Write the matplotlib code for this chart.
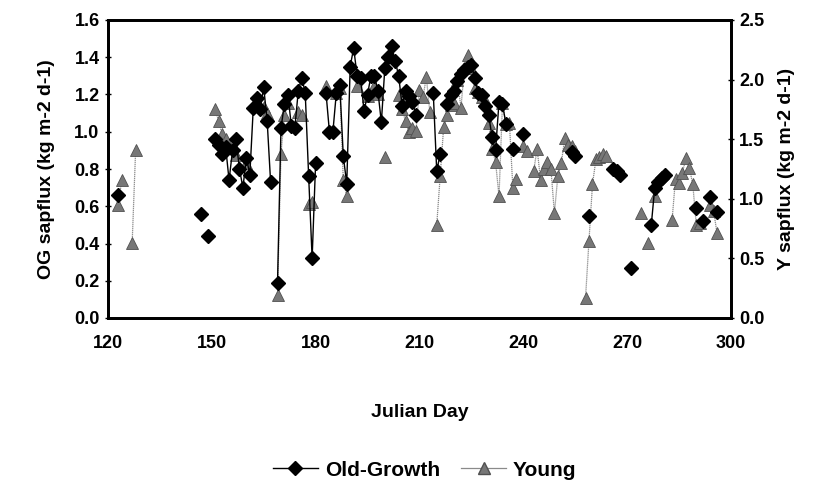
import numpy as np
import matplotlib
matplotlib.use('Agg')
import matplotlib.pyplot as plt
from matplotlib.lines import Line2D

plt.rcParams.update({
    'font.family': 'Liberation Sans',
    'font.weight': 'bold',
    'font.size': 12,
})

# --- Data ---
og_day = [123, 147, 149,
          151, 152, 153, 154, 155, 156, 157, 158, 159, 160, 161, 162, 163, 164,
          165, 166, 167, 169, 170, 171, 172, 173, 174, 175, 176, 177, 178, 179,
          180, 183, 184, 185, 186, 187, 188, 189, 190, 191, 192, 193, 194, 195,
          196, 197, 198, 199, 200, 201, 202, 203, 204, 205, 206, 207, 208, 209,
          214, 215, 216, 218, 219, 220, 221, 222, 223, 224, 225, 226, 227, 228,
          229, 230, 231, 232, 233, 234, 235, 237, 240,
          254, 255, 259, 266, 267, 268, 271,
          277, 278, 279, 280, 281, 290, 292, 294, 296]
og_val = [0.66, 0.56, 0.44,
          0.96, 0.93, 0.88, 0.92, 0.74, 0.90, 0.96, 0.80, 0.70, 0.86, 0.77, 1.13, 1.18, 1.12,
          1.24, 1.06, 0.73, 0.19, 1.02, 1.15, 1.20, 1.03, 1.02, 1.22, 1.29, 1.21, 0.76, 0.32,
          0.83, 1.21, 1.00, 1.00, 1.21, 1.25, 0.87, 0.72, 1.35, 1.45, 1.30, 1.29, 1.11, 1.20,
          1.30, 1.30, 1.22, 1.05, 1.34, 1.40, 1.46, 1.38, 1.30, 1.14, 1.22, 1.19, 1.16, 1.09,
          1.21, 0.79, 0.88, 1.15, 1.20, 1.22, 1.27, 1.31, 1.33, 1.35, 1.36, 1.29, 1.21, 1.20,
          1.14, 1.09, 0.97, 0.90, 1.16, 1.15, 1.04, 0.91, 0.99,
          0.89, 0.87, 0.55, 0.80, 0.79, 0.77, 0.27,
          0.50, 0.70, 0.73, 0.75, 0.77, 0.59, 0.52, 0.65, 0.57]

y_day = [123, 124, 127, 128,
         151, 152, 153, 154, 157, 160, 165, 166, 169, 170, 171, 172, 175, 176,
         178, 179, 183, 186, 187, 188, 189, 192, 195, 197, 198, 200,
         204, 205, 206, 207, 208, 209, 210, 211, 212, 213, 215, 216, 217, 218,
         219, 220, 221, 222, 223, 224, 225, 226, 227, 228, 229, 230, 231, 232,
         233, 234, 235, 236, 237, 238, 240, 241, 243, 244, 245, 246, 247, 248,
         249, 250, 251, 252, 253, 254, 255,
         258, 259, 260, 261, 262, 263, 264,
         274, 276, 278, 283, 284, 285, 286, 287, 288, 289, 290, 291, 294, 295, 296]
y_val = [0.95, 1.16, 0.63, 1.41,
         1.75, 1.65, 1.54, 1.50, 1.37, 1.30, 1.77, 1.72, 0.19, 1.38, 1.70, 1.80, 1.73, 1.70,
         0.96, 0.97, 1.95, 1.89, 1.93, 1.16, 1.02, 1.95, 1.86, 1.95, 1.88, 1.35,
         1.87, 1.75, 1.65, 1.56, 1.59, 1.57, 1.91, 1.85, 2.02, 1.73, 0.78, 1.19, 1.60, 1.70,
         1.79, 1.80, 2.00, 1.76, 2.10, 2.21, 2.10, 1.93, 1.90, 1.85, 1.83, 1.64, 1.42, 1.31,
         1.02, 1.80, 1.63, 1.64, 1.09, 1.17, 1.44, 1.40, 1.23, 1.42, 1.16, 1.25, 1.31, 1.25,
         0.88, 1.19, 1.30, 1.51, 1.45, 1.44, 1.40,
         0.17, 0.65, 1.12, 1.33, 1.35, 1.38, 1.36,
         0.88, 0.63, 1.02, 0.82, 1.17, 1.13, 1.22, 1.34, 1.26, 1.12, 0.78, 0.80, 0.95, 0.90, 0.71]


def with_gaps(days, vals):
    # break the line where a day is missing
    d = np.asarray(days, float)
    v = np.asarray(vals, float)
    out_d, out_v = [d[0]], [v[0]]
    for i in range(1, len(d)):
        if d[i] - d[i - 1] > 1:
            out_d.append(np.nan)
            out_v.append(np.nan)
        out_d.append(d[i])
        out_v.append(v[i])
    return np.array(out_d), np.array(out_v)


fig = plt.figure(figsize=(8.24, 5.0), dpi=100)
ax = fig.add_axes([0.131, 0.364, 0.756, 0.596])
ax2 = ax.twinx()

yd, yv = with_gaps(y_day, y_val)
ax2.plot(yd, yv, color='#8a8a8a', lw=0.9, ls=(0, (1, 0.6)), zorder=2)
ax2.plot(y_day, y_val, ls='none', marker='^', ms=9, color='#777777',
         mec='#505050', mew=0.6, zorder=3)

od, ov = with_gaps(og_day, og_val)
ax.plot(od, ov, color='black', lw=1.0, zorder=4)
ax.plot(og_day, og_val, ls='none', marker='D', ms=7, color='black', zorder=5)

ax.set_zorder(ax2.get_zorder() + 1)
ax.patch.set_visible(False)

ax.set_xlim(120, 300)
ax.set_xticks(np.arange(120, 301, 30))
ax.set_ylim(0, 1.6)
ax.set_yticks(np.arange(0, 1.61, 0.2))
ax.set_yticklabels([f'{t:.1f}' for t in np.arange(0, 1.61, 0.2)])
ax2.set_ylim(0, 2.5)
ax2.set_yticks(np.arange(0, 2.51, 0.5))
ax2.set_yticklabels([f'{t:.1f}' for t in np.arange(0, 2.51, 0.5)])

for a in (ax, ax2):
    for s in a.spines.values():
        s.set_linewidth(2.0)
    a.tick_params(labelsize=13, width=1, length=5, direction='inout')
ax.tick_params(axis='x', length=0, pad=12)

ax.set_ylabel('OG sapflux (kg m-2 d-1)', fontsize=14, fontweight='bold', labelpad=14)
ax2.set_ylabel('Y sapflux (kg m-2 d-1)', fontsize=14, fontweight='bold', labelpad=10)
ax.set_xlabel('Julian Day', fontsize=14, fontweight='bold', labelpad=38)

handles = [
    Line2D([], [], color='black', lw=1.0, marker='D', ms=7),
    Line2D([], [], color='#8a8a8a', lw=0.9, marker='^', ms=9, mfc='#777777', mec='#505050'),
]
fig.legend(handles, ['Old-Growth', 'Young'], loc='center', bbox_to_anchor=(0.515, 0.06),
           ncol=2, frameon=False, handlelength=2.2, columnspacing=1.0,
           handletextpad=0.3, prop={'weight': 'bold', 'size': 15})

fig.savefig('out.png', dpi=100)
